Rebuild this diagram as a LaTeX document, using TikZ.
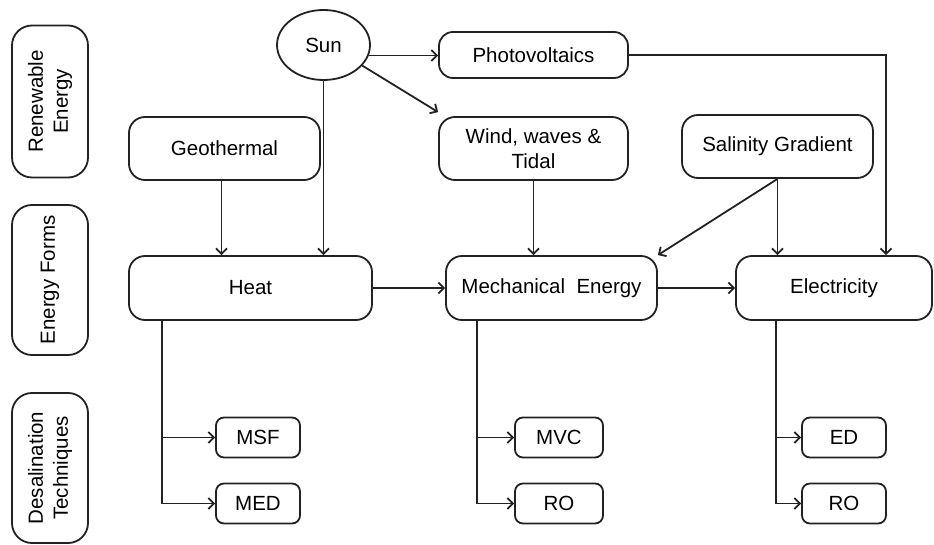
\documentclass[tikz,border=0pt]{standalone}
\usepackage{fontspec}
\setmainfont{Liberation Sans}
\usetikzlibrary{arrows.meta,shapes.geometric}
\definecolor{lineblack}{RGB}{34,34,34}

\begin{document}
\begin{tikzpicture}[x=1pt, y=-1pt, >={Straight Barb[length=5.5pt,width=11pt]},
    every node/.style={font=\fontsize{20.5}{25}\selectfont, align=center, inner sep=0pt},
    stagebox/.style={draw=lineblack, line width=1.8pt, rounded corners=20pt, rotate=90,
      minimum width=152pt, minimum height=76pt},
    bigbox/.style={draw=lineblack, line width=1.8pt, rounded corners=16pt},
    smallbox/.style={draw=lineblack, line width=1.8pt, rounded corners=8pt,
      minimum height=40pt},
    arr/.style={->, draw=lineblack, line width=1.8pt}]
    \useasboundingbox (0,0) rectangle (934,545);

    % left column
    \node[stagebox] (renew) at (50,101.5) {Renewable\\Energy};
    \node[stagebox, minimum width=150pt] (forms) at (50,280) {Energy Forms};
    \node[stagebox, minimum width=150pt] (desal) at (50,468) {Desalination\\Techniques};

    % sources
    \node[ellipse, draw=lineblack, line width=1.8pt, minimum width=93pt, minimum height=70pt] (sun) at (323.5,45) {Sun};
    \node[bigbox, rounded corners=14pt, minimum width=189pt, minimum height=46pt] (pv) at (533.5,55) {Photovoltaics};
    \node[bigbox, minimum width=191pt, minimum height=63pt] (geo) at (224.5,148.5) {Geothermal};
    \node[bigbox, minimum width=189pt, minimum height=63pt] (wind) at (533.5,148.5) {Wind, waves \&\\Tidal};
    \node[bigbox, minimum width=191pt, minimum height=63pt] (sal) at (777.5,146.5) {Salinity Gradient};

    % energy forms
    \node[bigbox, minimum width=243pt, minimum height=64pt] (heat) at (250.5,288) {Heat};
    \node[bigbox, minimum width=211pt, minimum height=64pt] (mech) at (551.5,288) {Mechanical\ \ Energy};
    \node[bigbox, minimum width=196pt, minimum height=64pt] (elec) at (834,288) {Electricity};

    % techniques
    \node[smallbox, minimum width=84pt] (msf) at (258,437.5) {MSF};
    \node[smallbox, minimum width=84pt] (med) at (258,503.5) {MED};
    \node[smallbox, minimum width=88pt] (mvc) at (559,437.5) {MVC};
    \node[smallbox, minimum width=88pt] (rom) at (559,503.5) {RO};
    \node[smallbox, minimum width=84pt] (ed) at (844,437.5) {ED};
    \node[smallbox, minimum width=84pt] (roe) at (844,503.5) {RO};

    \draw[arr] (sun.-13) -- (sun.-13 -| pv.west);
    \draw[arr] (sun.-28) -- ([yshift=4pt]wind.north west);
    \draw[arr] (sun.south) -- (sun.south |- heat.north);
    \draw[arr] ([xshift=-3pt]geo.south) -- ([xshift=-3pt]geo.south |- heat.north);
    \draw[arr] (wind.south) -- (wind.south |- mech.north);
    \draw[arr] (sal.south) -- (mech.north east);
    \draw[arr] (sal.south) -- (sal.south |- elec.north);
    \draw[arr] (pv.east) -| ([xshift=52pt]elec.north);
    \draw[arr] (heat.east) -- (mech.west);
    \draw[arr] (mech.east) -- (elec.west);

    \draw[arr] ([xshift=34pt]heat.south west) |- (msf.west);
    \draw[arr] ([xshift=34pt]heat.south west) |- (med.west);
    \draw[arr] ([xshift=32pt]mech.south west) |- (mvc.west);
    \draw[arr] ([xshift=32pt]mech.south west) |- (rom.west);
    \draw[arr] ([xshift=41pt]elec.south west) |- (ed.west);
    \draw[arr] ([xshift=41pt]elec.south west) |- (roe.west);
\end{tikzpicture}
\end{document}
